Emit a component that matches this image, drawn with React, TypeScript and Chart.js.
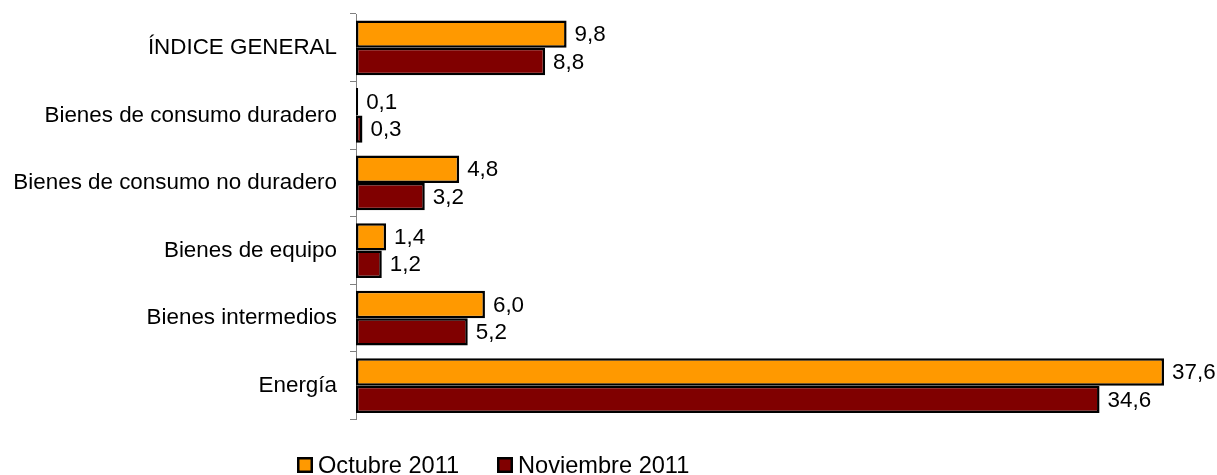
import React, { useEffect, useRef } from "react";
import { Chart, registerables } from "chart.js";

Chart.register(...registerables);

const categories = [
  "ÍNDICE GENERAL",
  "Bienes de consumo duradero",
  "Bienes de consumo no duradero",
  "Bienes de equipo",
  "Bienes intermedios",
  "Energía",
];
const octubre2011 = [9.8, 0.1, 4.8, 1.4, 6.0, 37.6];
const noviembre2011 = [8.8, 0.3, 3.2, 1.2, 5.2, 34.6];
const seriesNames = ["Octubre 2011", "Noviembre 2011"];

const FONT = "'Liberation Sans', Arial, sans-serif";

const valueLabels = {
  id: "valueLabels",
  afterDatasetsDraw(chart: any) {
    const ctx = chart.ctx;
    ctx.save();
    ctx.font = `22.4px ${FONT}`;
    ctx.fillStyle = "#000";
    ctx.textAlign = "left";
    ctx.textBaseline = "middle";
    chart.data.datasets.forEach((ds: any, i: number) => {
      const meta = chart.getDatasetMeta(i);
      meta.data.forEach((el: any, j: number) => {
        const v = ds.data[j] as number;
        ctx.fillText(v.toFixed(1).replace(".", ","), el.x + 8, el.y + 1);
      });
    });
    ctx.restore();
  },
};

const customLegend = {
  id: "customLegend",
  afterDraw(chart: any) {
    const ctx = chart.ctx;
    ctx.save();
    ctx.font = `23.6px ${FONT}`;
    ctx.textBaseline = "middle";
    ctx.textAlign = "left";
    const starts = [297, 497];
    const boxY = 457;
    const size = 16;
    chart.data.datasets.forEach((ds: any, i: number) => {
      const x = starts[i];
      ctx.fillStyle = ds.backgroundColor;
      ctx.fillRect(x, boxY, size, size);
      ctx.strokeStyle = "#000";
      ctx.lineWidth = 2.5;
      ctx.strokeRect(x + 1.25, boxY + 1.25, size - 2.5, size - 2.5);
      ctx.fillStyle = "#000";
      ctx.fillText(ds.label, x + size + 5, boxY + size / 2 + 1);
    });
    ctx.restore();
  },
};

export default function App() {
  const ref = useRef<HTMLCanvasElement | null>(null);
  useEffect(() => {
    if (!ref.current) return;
    const chart = new Chart(ref.current, {
      type: "bar",
      data: {
        labels: categories,
        datasets: [
          {
            label: seriesNames[0],
            data: octubre2011,
            backgroundColor: "#FF9900",
            borderColor: "#000000",
            borderWidth: 2.5,
            borderSkipped: false,
          },
          {
            label: seriesNames[1],
            data: noviembre2011,
            backgroundColor: "#800000",
            borderColor: "#000000",
            borderWidth: 2.5,
            borderSkipped: false,
          },
        ],
      },
      options: {
        indexAxis: "y",
        animation: false,
        responsive: true,
        maintainAspectRatio: false,
        layout: { padding: { top: 14, bottom: 55.5, left: 0, right: 1.4 } },
        datasets: {
          bar: { categoryPercentage: 0.81, barPercentage: 1.0 },
        },
        plugins: {
          legend: { display: false },
          tooltip: { enabled: false },
        },
        scales: {
          x: {
            display: false,
            min: 0,
            max: 40,
          },
          y: {
            afterFit(scale: any) {
              scale.width = 356;
              scale.paddingTop = 0;
              scale.paddingBottom = 0;
            },
            grid: {
              display: true,
              drawOnChartArea: false,
              drawTicks: true,
              tickLength: 6,
              offset: true,
              color: "#808080",
              lineWidth: 1,
            },
            border: { display: true, color: "#808080", width: 1 },
            ticks: {
              color: "#000",
              padding: 13,
              font: { family: FONT, size: 22.4 },
            },
          },
        },
      },
      plugins: [valueLabels, customLegend],
    });
    return () => chart.destroy();
  }, []);
  return (
    <div style={{ position: "absolute", left: 0, top: 0, width: 1217, height: 475, background: "#fff" }}>
      <canvas ref={ref} />
    </div>
  );
}
